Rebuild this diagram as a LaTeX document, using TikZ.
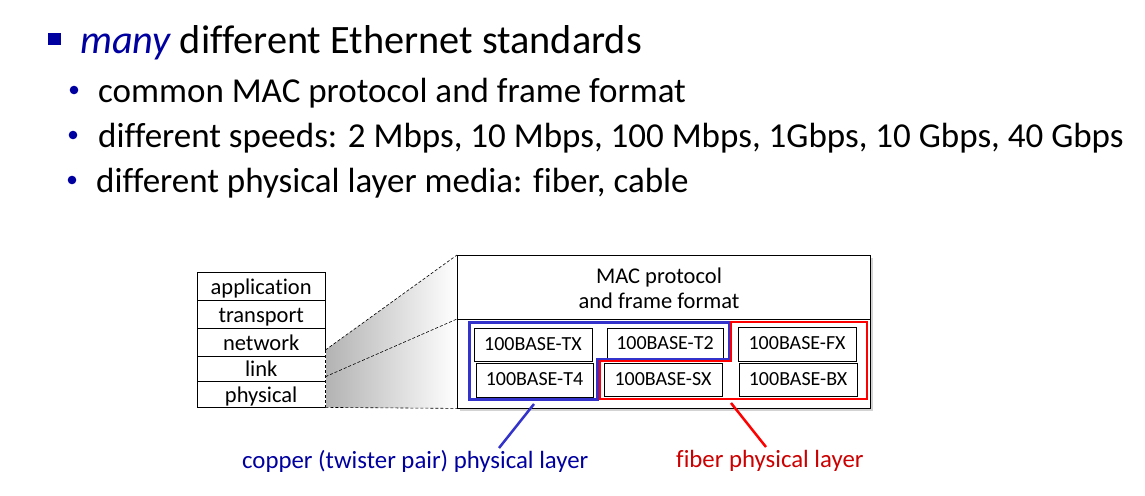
\documentclass[tikz,border=0pt]{standalone}
\usepackage{fontspec}
\setmainfont{Carlito}[Ligatures=CommonOff]
\usetikzlibrary{shadows,calc}
\definecolor{navy}{RGB}{0,0,160}
\definecolor{cuBlue}{RGB}{51,51,204}
\definecolor{fiberRed}{RGB}{255,0,0}
\definecolor{capRed}{RGB}{204,0,0}
\begin{document}
\begin{tikzpicture}[x=1pt,y=-1pt,
  layer/.style={draw, minimum width=128pt, inner sep=0pt, anchor=north west,
    text height=17pt, text depth=1pt, font=\fontsize{22.5}{22.5}\selectfont},
  std/.style={draw, fill=white, inner sep=0pt, text height=13pt, text depth=2pt,
    font=\fontsize{20}{20}\selectfont},
  bullettext/.style={anchor=base west, inner sep=0pt, font=\fontsize{35}{35}\selectfont},
  caption/.style={anchor=base west, inner sep=0pt, font=\fontsize{24.8}{24.8}\selectfont},
  zoomline/.style={densely dashed, line width=0.6pt}]
\useasboundingbox (0,0) rectangle (1145,495);

% bulleted text
\fill[navy] (48,33) rectangle (61,45);
\node[anchor=base west, inner sep=0pt, font=\fontsize{40.3}{40.3}\selectfont] (title) at (80,53)
  {\textcolor{navy}{\itshape many} different Ethernet standards};
\fill[navy] (74,90) circle (4.3);
\node[bullettext] (l1) at (98,102) {common MAC protocol and frame format};
\fill[navy] (73,135) circle (4.3);
\node[bullettext] (l2) at (98,147) {different speeds: 2 Mbps, 10 Mbps, 100 Mbps, 1Gbps, 10 Gbps, 40 Gbps};
\fill[navy] (72,180) circle (4.3);
\node[bullettext] (l3) at (96,192) {different physical layer media: fiber, cable};

% protocol stack
\node[layer, minimum height=28pt] (app) at (197,272) {application};
\node[layer, minimum height=28pt] (trn) at (197,300) {transport};
\node[layer, minimum height=28pt] (net) at (197,328) {network};
\node[layer, minimum height=25pt] (lnk) at (197,356) {link};
\node[layer, minimum height=26pt] (phys) at (197,381) {physical};

% Ethernet detail box
\node[draw, fill=white, anchor=north west, minimum width=413pt, minimum height=153pt,
  inner sep=0pt, drop shadow={shadow xshift=3pt, shadow yshift=-3pt, opacity=0.35}]
  (ether) at (457,255) {};
\draw (ether.west |- 0,319) coordinate (divW) -- (ether.east |- 0,319) coordinate (divE);
\node[align=center, inner sep=0pt, font=\fontsize{22.5}{25}\selectfont] (mac) at (659,288)
  {MAC protocol\\and frame format};

% zoom lines from link/physical layers to the detail box
\coordinate (zA) at ($(lnk.north east)+(0,-6)$);
\coordinate (zB) at ($(lnk.east)+(0,8)$);
\shade[left color=black!30, right color=white] (zA) -- (ether.north west) -- (ether.south west) -- (phys.south east) -- cycle;
\draw[white, line width=1pt] (zA) -- (phys.south east);
\draw[zoomline] (zA) -- (phys.south east);
\draw[zoomline] (zA) -- (ether.north west);
\draw[zoomline] (zB) -- (divW);
\draw[zoomline] (phys.south east) -- (ether.south west);
\draw (ether.north west) rectangle (ether.south east);

% physical layer standards
\node[std, minimum width=118pt, minimum height=33pt] (tx) at (533,344.5) {100BASE-TX};
\node[std, minimum width=116pt, minimum height=32pt] (t2) at (665,344) {100BASE-T2};
\node[std, minimum width=118pt, minimum height=34pt] (fx) at (797,344) {100BASE-FX};
\node[std, minimum width=117pt, minimum height=34pt] (t4) at (534.5,380) {100BASE-T4};
\node[std, minimum width=118pt, minimum height=33pt] (sx) at (663,379.5) {100BASE-SX};
\node[std, minimum width=118pt, minimum height=33pt] (bx) at (798,379.5) {100BASE-BX};

% copper and fiber groupings
\draw[cuBlue, line width=3pt] (469,322) -- (729,322) -- (729,359) -- (597,359) -- (597,399) -- (469,399) -- cycle;
\draw[fiberRed, line width=2pt] (731,322) -- (867,322) -- (867,399) -- (600,399) -- (600,361) -- (731,361) -- cycle;

% captions and their pointers
\node[caption, text=navy] (cuCap) at (242,468) {copper (twister pair) physical layer};
\node[caption, text=capRed] (fiCap) at (676,467) {fiber physical layer};
\coordinate (cuTop) at (534,404);
\coordinate (cuFoot) at (499,448);
\coordinate (fiTop) at (731,403);
\coordinate (fiFoot) at (766,447);
\draw[cuBlue, line width=2.5pt] (cuTop) -- (cuFoot);
\draw[fiberRed, line width=2.5pt] (fiTop) -- (fiFoot);
\end{tikzpicture}
\end{document}
